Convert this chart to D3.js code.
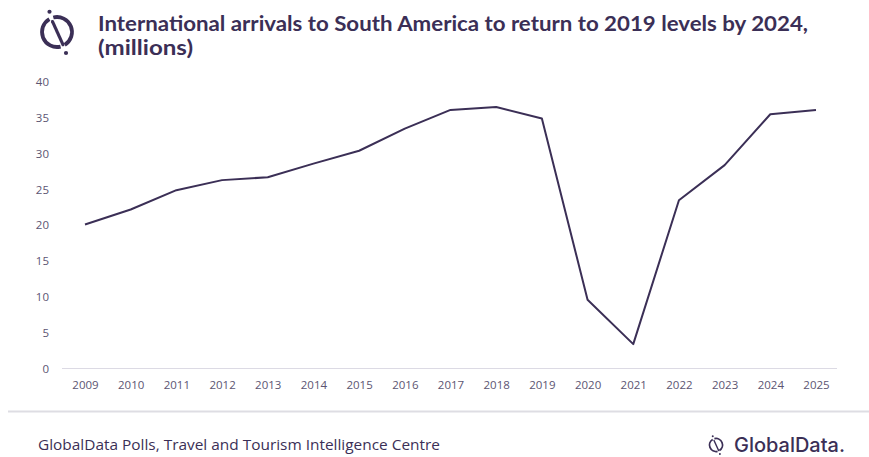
<!DOCTYPE html>
<html>
<head>
<meta charset="utf-8">
<script src="https://cdn.jsdelivr.net/npm/d3@7"></script>
<style>
  body { margin: 0; background: #fff; }
  svg { display: block; }
</style>
</head>
<body>
<div id="chart"></div>
<script>
const width = 869;
const height = 457;

// values (millions of arrivals)
const years = ['2009', '2010', '2011', '2012', '2013', '2014', '2015', '2016', '2017',
  '2018', '2019', '2020', '2021', '2022', '2023', '2024', '2025'];
const arrivals = [20.1, 22.2, 24.9, 26.3, 26.7, 28.6, 30.4, 33.5, 36.1,
  36.5, 34.9, 9.6, 3.4, 23.5, 28.4, 35.5, 36.1];
const yTicks = [0, 5, 10, 15, 20, 25, 30, 35, 40];

const titleLines = ['International arrivals to South America to return to 2019 levels by 2024,', '(millions)'];
const source = 'GlobalData Polls, Travel and Tourism Intelligence Centre';

const dark = '#3b2f56';
const tickColor = '#5c5572';

const svg = d3.select('#chart').append('svg').attr('width', width).attr('height', height);

const x = d3.scalePoint().domain(years).range([85, 816]);
const y = d3.scaleLinear().domain([0, 40]).range([368.5, 82]);

// title
const title = svg.append('g').attr('font-family', 'Lato, sans-serif').attr('font-weight', 700)
  .attr('fill', dark).attr('font-size', 20.5);
title.append('text').attr('x', 98).attr('y', 30.5).text(titleLines[0])
  .attr('textLength', 710).attr('lengthAdjust', 'spacingAndGlyphs');
title.append('text').attr('x', 98).attr('y', 55).text(titleLines[1])
  .attr('textLength', 95).attr('lengthAdjust', 'spacingAndGlyphs');

// logo icon (ring with two gaps, slash and two dots)
function drawIcon(g, r, sw) {
  g.append('path')
    .attr('d', d3.arc()({ innerRadius: r - sw / 2, outerRadius: r + sw / 2, startAngle: -0.25, endAngle: 2.6 }))
    .attr('fill', dark);
  g.append('path')
    .attr('d', d3.arc()({ innerRadius: r - sw / 2, outerRadius: r + sw / 2, startAngle: 2.9, endAngle: 5.75 }))
    .attr('fill', dark);
  g.append('line')
    .attr('x1', -r * 0.3).attr('y1', -r * 0.7).attr('x2', r * 0.4).attr('y2', r * 0.85)
    .attr('stroke', dark).attr('stroke-width', sw * 0.8).attr('stroke-linecap', 'round');
  g.append('circle').attr('cx', -r * 0.5).attr('cy', -r * 1.35).attr('r', sw * 0.55).attr('fill', dark);
  g.append('circle').attr('cx', r * 0.6).attr('cy', r * 1.4).attr('r', sw * 0.55).attr('fill', dark);
}
drawIcon(svg.append('g').attr('transform', 'translate(57,32)'), 15, 3.8);

// y axis labels
const yAxis = svg.append('g').attr('transform', 'translate(49,0)')
  .call(d3.axisLeft(y).tickValues(yTicks).tickSize(0).tickPadding(0));
yAxis.select('.domain').remove();
yAxis.selectAll('text').attr('fill', tickColor).attr('font-size', 11.5)
  .attr('font-family', '"Open Sans", sans-serif');

// baseline and x labels
svg.append('line').attr('x1', 62).attr('x2', 837).attr('y1', y(0)).attr('y2', y(0))
  .attr('stroke', '#dcdae4').attr('stroke-width', 1.2);

const xAxis = svg.append('g').attr('transform', `translate(0,${y(0)})`)
  .call(d3.axisBottom(x).tickSize(0).tickPadding(12));
xAxis.select('.domain').remove();
xAxis.selectAll('text').attr('fill', tickColor).attr('font-size', 11.5)
  .attr('font-family', '"Open Sans", sans-serif');

// series line
const line = d3.line().x((d, i) => x(years[i])).y(d => y(d));
svg.append('path').datum(arrivals)
  .attr('d', line)
  .attr('fill', 'none')
  .attr('stroke', dark)
  .attr('stroke-width', 2)
  .attr('stroke-linejoin', 'round');

// footer
svg.append('line').attr('x1', 8).attr('x2', width).attr('y1', 411.5).attr('y2', 411.5)
  .attr('stroke', '#dedde3').attr('stroke-width', 2);

svg.append('text').attr('x', 38).attr('y', 450).text(source)
  .attr('font-family', '"Open Sans", sans-serif').attr('font-size', 14).attr('fill', dark)
  .attr('textLength', 402).attr('lengthAdjust', 'spacingAndGlyphs');

drawIcon(svg.append('g').attr('transform', 'translate(716,445)'), 6.5, 1.8);
svg.append('text').attr('x', 734).attr('y', 452).text('GlobalData.')
  .attr('font-family', 'Inter, sans-serif').attr('font-weight', 500).attr('font-size', 20)
  .attr('fill', dark).attr('textLength', 111).attr('lengthAdjust', 'spacingAndGlyphs');
</script>
</body>
</html>
